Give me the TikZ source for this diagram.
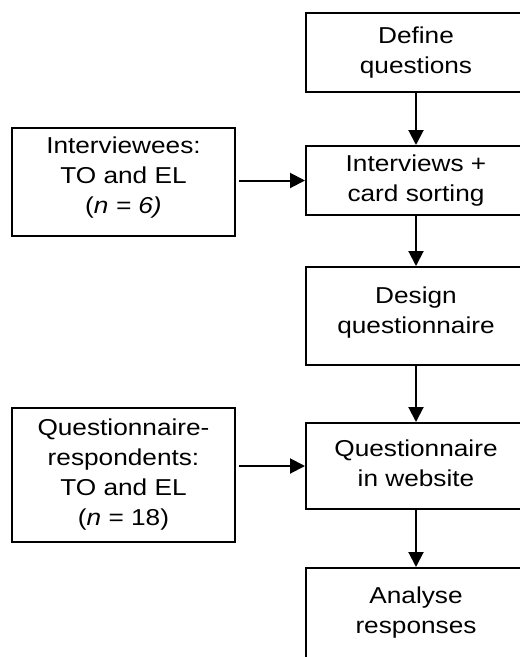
\documentclass[tikz,border=0pt]{standalone}
\usepackage{fontspec}
\newfontfamily\flowfont[FakeStretch=1.14]{Liberation Sans}
\usetikzlibrary{arrows.meta}
\begin{document}
\begin{tikzpicture}[x=1pt,y=-1pt,
  box/.style={draw=black,line width=2pt,rectangle,inner sep=0pt},
  txt/.style={font=\flowfont\fontsize{23}{30}\selectfont,align=center,inner sep=0pt,anchor=north},
  flow/.style={line width=2pt,-{Triangle[length=15pt,width=15pt]}}]
\useasboundingbox (0,0) rectangle (520,657);
\clip (0,0) rectangle (520,657);
% main column of steps (right-hand boxes run past the frame)
\node[box,minimum width=220pt,minimum height=79pt]  (b1) at (416,52.5) {};
\node[box,minimum width=220pt,minimum height=69pt]  (b2) at (416,180.5) {};
\node[box,minimum width=220pt,minimum height=98pt]  (b3) at (416,316) {};
\node[box,minimum width=220pt,minimum height=86pt]  (b4) at (416,466) {};
\node[box,minimum width=220pt,minimum height=112pt] (b5) at (416,624) {};
% participant boxes
\node[box,minimum width=223pt,minimum height=108pt] (l1) at (123.5,182) {};
\node[box,minimum width=223pt,minimum height=134pt] (l2) at (123.5,475) {};
% labels
\node[txt] (t1) at (416,27)  {Define\\questions};
\node[txt] (t2) at (416,155) {Interviews +\\card sorting};
\node[txt] (t3) at (416,287) {Design\\questionnaire};
\node[txt] (t4) at (416,440) {Questionnaire\\in website};
\node[txt] (t5) at (416,587) {Analyse\\responses};
\node[txt] (s1) at (123.5,137) {Interviewees:\\TO and EL\\(\textit{n = 6)}};
\node[txt] (s2) at (123.5,419) {Questionnaire-\\respondents:\\TO and EL\\(\textit{n} = 18)};
% connectors
\draw[flow] (b1.south) -- (b2.north);
\draw[flow] (b2.south) -- (b3.north);
\draw[flow] (b3.south) -- (b4.north);
\draw[flow] (b4.south) -- (b5.north);
\draw[flow] ([xshift=3pt]l1.east |- b2.west) -- (b2.west);
\draw[flow] ([xshift=3pt]l2.east |- b4.west) -- (b4.west);
\end{tikzpicture}
\end{document}
